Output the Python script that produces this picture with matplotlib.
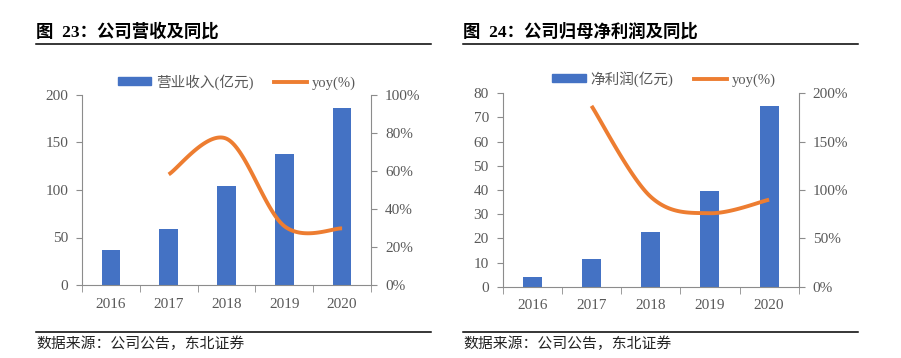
import numpy as np
import matplotlib
matplotlib.use("Agg")
import matplotlib.pyplot as plt
from matplotlib.lines import Line2D
from matplotlib.patches import Patch

years = ["2016", "2017", "2018", "2019", "2020"]

revenue = [37.2, 59.0, 104.2, 137.9, 186.3]
revenue_yoy = [None, 58.2, 77.0, 31.0, 29.8]

profit = [4.0, 11.6, 22.5, 39.5, 74.9]
profit_yoy = [None, 187.0, 93.0, 76.0, 90.0]

BAR = "#4472C4"
LINE = "#ED7D31"
AXIS = "#8c8c8c"
TXT = "#595959"
SERIF = ["Liberation Serif", "Noto Sans CJK SC"]
CJK = ["Noto Sans CJK SC", "DejaVu Sans"]


def smooth(xs, ys, n=40):
    # Excel-like smoothed line (Catmull-Rom through the data points)
    p = np.column_stack([xs, ys]).astype(float)
    p = np.vstack([p[0], p, p[-1]])
    out = []
    for i in range(1, len(p) - 2):
        p0, p1, p2, p3 = p[i - 1], p[i], p[i + 1], p[i + 2]
        c1 = p1 + (p2 - p0) / 6
        c2 = p2 - (p3 - p1) / 6
        t = np.linspace(0, 1, n)[:, None]
        seg = ((1 - t) ** 3) * p1 + 3 * ((1 - t) ** 2) * t * c1 + 3 * (1 - t) * t ** 2 * c2 + t ** 3 * p2
        out.append(seg)
    out = np.vstack(out)
    return out[:, 0], out[:, 1]


def panel(rect, bars, yoy, ymax, ystep, rmax, rstep, bar_label, leg_x, leg_y):
    ax = fig.add_axes(rect)
    x = np.arange(len(years))
    ax.bar(x, bars, width=0.32, color=BAR, zorder=2)
    ax.set_xlim(-0.5, len(years) - 0.5)
    ax.set_ylim(0, ymax)
    ax.set_yticks(np.arange(0, ymax + 0.1, ystep))
    ax.set_xticks(x)
    ax.set_xticklabels(years)
    ax.set_xticks(np.arange(-0.5, len(years)), minor=True)
    ax.tick_params(axis="x", which="major", length=0, pad=9, labelsize=11, labelcolor=TXT)
    ax.tick_params(axis="x", which="minor", length=5, color=AXIS, direction="out")
    ax.tick_params(axis="y", length=4, color=AXIS, labelsize=11, labelcolor=TXT, pad=6)
    for lab in ax.get_xticklabels() + ax.get_yticklabels():
        lab.set_family(SERIF)
    ax.spines["top"].set_visible(False)
    ax.spines["right"].set_visible(False)
    ax.spines["left"].set_color(AXIS)
    ax.spines["bottom"].set_color(AXIS)

    ax2 = ax.twinx()
    xs = [i for i, v in enumerate(yoy) if v is not None]
    ys = [v for v in yoy if v is not None]
    sx, sy = smooth(xs, ys)
    ax2.plot(sx, sy, color=LINE, lw=2.8, solid_capstyle="butt", zorder=3)
    ax2.set_ylim(0, rmax)
    ax2.set_yticks(np.arange(0, rmax + 0.1, rstep))
    ax2.set_yticklabels([f"{int(v)}%" for v in np.arange(0, rmax + 0.1, rstep)])
    ax2.tick_params(axis="y", length=4, color=AXIS, labelsize=11, labelcolor=TXT, pad=6)
    for lab in ax2.get_yticklabels():
        lab.set_family(SERIF)
    ax2.spines["top"].set_visible(False)
    ax2.spines["left"].set_visible(False)
    ax2.spines["bottom"].set_visible(False)
    ax2.spines["right"].set_color(AXIS)

    handles = [Patch(color=BAR), Line2D([], [], color=LINE, lw=2.8)]
    leg = ax.legend(handles, [bar_label, "yoy(%)"], loc="center",
                    bbox_to_anchor=(leg_x, leg_y), ncol=2, frameon=False,
                    handlelength=2.3, handleheight=0.45, handletextpad=0.3,
                    columnspacing=1.4, borderaxespad=0.0,
                    prop={"family": SERIF, "size": 10.5})
    for t in leg.get_texts():
        t.set_color(TXT)
    return ax


fig = plt.figure(figsize=(9.01, 3.58), dpi=100)

panel([82 / 901, 1 - 285 / 358, 289 / 901, 190 / 358], revenue, revenue_yoy,
      200, 50, 100, 20, "营业收入(亿元)", 0.535, 1.07)
panel([502.7 / 901, 1 - 286.7 / 358, 296 / 901, 193.4 / 358], profit, profit_yoy,
      80, 10, 200, 50, "净利润(亿元)", 0.545, 1.075)

# titles, rules and source notes
for x0, x1, title in [(36, 431, "图  23：公司营收及同比"), (463, 858, "图  24：公司归母净利润及同比")]:
    fig.text(x0 / 901, 1 - 32 / 358, title, fontsize=12.5, fontweight="bold",
             family=SERIF, va="center", ha="left", color="black")
    fig.add_artist(Line2D([x0 / 901, x1 / 901], [1 - 43.5 / 358] * 2, color="black", lw=1.1))
    fig.add_artist(Line2D([x0 / 901, x1 / 901], [1 - 331.7 / 358] * 2, color="black", lw=1.1))
    fig.text(x0 / 901, 1 - 344 / 358, "数据来源：公司公告，东北证券", fontsize=10.7,
             family=CJK, va="center", ha="left", color="#222222")

fig.savefig("out.png", dpi=100)
